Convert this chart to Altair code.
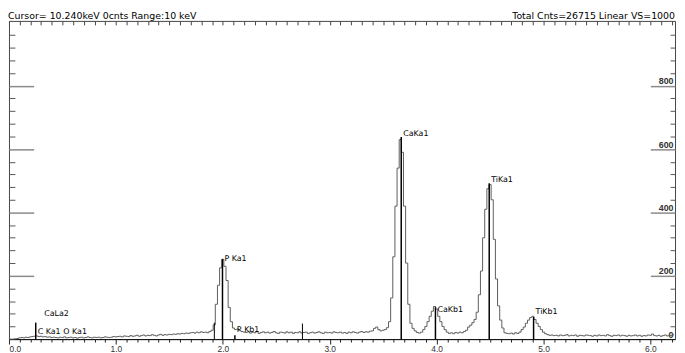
import altair as alt
import pandas as pd

# ---------------- data ----------------
CHANNEL_KEV = 0.02

counts_000 = [0, 0, 0, 1, 2, 4, 5, 4, 6, 5, 7, 8, 9, 10, 8, 9, 7, 8, 6, 7, 5]
counts_042 = [6, 5, 4, 6, 5, 7, 4, 5, 6, 4, 5, 3, 5, 6, 4, 5, 7, 5, 4, 6,
              5, 6, 4, 5, 7, 6, 5, 6, 8, 7]
counts_102 = [8, 9, 7, 10, 9, 8, 11, 9, 10, 12, 9, 11, 13, 10, 12, 11, 14, 12, 10, 13,
              15, 12, 14, 13, 15]
counts_152 = [14, 16, 15, 17, 16, 18, 17, 19, 18, 20, 21, 19, 22, 20, 23, 21, 22, 20, 24, 28]
counts_192 = [45, 110, 170, 225, 252, 230, 185, 100, 55, 35, 30, 32, 27, 24, 22]
counts_222 = [21, 23, 19, 22, 20, 24, 18, 21, 23, 20,
              22, 19, 21, 24, 20, 18, 22, 21, 19, 23,
              20, 22, 18, 21, 20, 23, 19, 21, 22, 18,
              20, 22, 19, 21, 23, 20, 18, 22, 20, 21,
              19, 23, 21, 20, 22, 19, 21, 18, 22, 20,
              23, 21, 19, 22, 24, 21, 23, 22, 25]
counts_340 = [26, 34, 38, 30, 26, 28, 30, 36]
counts_356 = [55, 130, 260, 420, 540, 630, 590, 420, 240, 110, 50, 34]
counts_380 = [26, 21, 19, 22, 30, 40, 55, 72, 88, 103, 95, 72, 55, 40, 30, 22, 18, 20, 17, 21,
              19, 22, 20, 24, 28]
counts_430 = [38, 44, 52, 62, 85, 140, 215, 320, 410, 475, 488, 440, 315, 190, 105, 60, 35, 20]
counts_466 = [18, 17, 19, 16, 20, 18, 22, 30, 38, 50, 60, 68, 72, 62, 50, 40, 30, 22, 17]
counts_504 = [14, 12, 13, 11, 12, 10, 13, 11, 12, 14, 10, 12, 11, 13, 9, 12, 11, 10, 13, 12,
              11, 9, 12, 10, 13, 11, 12, 10, 14, 11, 9, 12, 11, 13, 10, 12, 11, 9, 12, 10,
              11, 13, 10, 12, 9, 11, 10, 13, 12, 16, 11, 10, 12, 9, 11, 13, 10, 12, 11, 14]

segment_start_kev = [0.00, 0.42, 1.02, 1.52, 1.92, 2.22, 3.40, 3.56, 3.80, 4.30, 4.66, 5.04]
segment_counts = [counts_000, counts_042, counts_102, counts_152, counts_192, counts_222,
                  counts_340, counts_356, counts_380, counts_430, counts_466, counts_504]

marker_names = ["CaLa2", "C Ka1", "O Ka1", "P Ka1", "P Kb1", "CaKa1", "CaKb1", "TiKa1", "TiKb1"]
marker_kev = [0.311, 0.25, 0.49, 1.997, 2.113, 3.669, 3.989, 4.492, 4.907]
marker_top = [0, 52, 0, 253, 12, 638, 101, 492, 70]
label_cnts = [79, 21, 21, 252, 30, 647, 92, 501, 85]

extra_marker_kev = [1.921, 2.745]
extra_marker_top = [52, 49]

header_left = "Cursor= 10.240keV 0cnts Range:10 keV"
header_right = "Total Cnts=26715 Linear VS=1000"

x_ticks = [round(i * 0.1, 1) for i in range(63)]
y_major = [200, 400, 600, 800]
y_labels = [0, 200, 400, 600, 800]
y_minor = [v for v in range(40, 1001, 40) if v % 200 != 0]

# ---------------- tables ----------------
rows = []
for start, cnts in zip(segment_start_kev, segment_counts):
    for i, c in enumerate(cnts):
        rows.append({"kev": round(start + i * CHANNEL_KEV, 3), "cnts": c})
spec_df = pd.DataFrame(rows)

mark_df = pd.DataFrame({"name": marker_names, "kev": marker_kev, "base": 0,
                        "top": marker_top, "ly": label_cnts})
extra_df = pd.DataFrame({"kev": extra_marker_kev, "base": 0, "top": extra_marker_top})

W, H = 674, 322
FONT = "DejaVu Sans"
AX_FONT = "Liberation Sans"

xscale = alt.Scale(domain=[0, 6.23], nice=False, zero=False)
yscale = alt.Scale(domain=[0, 1005], nice=False, zero=True)

is_int = "abs(datum.value - round(datum.value)) < 0.001"

bottom_axis = alt.Axis(
    orient="bottom", values=x_ticks, title=None, grid=False,
    labelExpr=f"{is_int} ? format(datum.value, '.1f') : ''",
    tickSize={"condition": {"test": is_int, "value": 5}, "value": 3},
    tickColor="#222", domainColor="#111", domainWidth=1,
    labelFont=AX_FONT, labelFontSize=8.5, labelColor="#333", labelPadding=1,
    labelFlush=True, labelOverlap=False,
)
top_axis = alt.Axis(orient="top", values=x_ticks, labels=False, domain=False,
                    offset=-4, tickSize=4, tickColor="#444", title=None, grid=False)
left_minor = alt.Axis(orient="left", values=y_minor, labels=False, domain=False,
                      offset=-6, tickSize=6, tickColor="#555", title=None, grid=False)
left_major = alt.Axis(orient="left", values=y_major, labels=False, domain=False,
                      offset=-25, tickSize=25, tickColor="#8a8a8a", tickWidth=1.5,
                      title=None, grid=False)
right_major = alt.Axis(
    orient="right", values=y_labels, domain=False, offset=-25, tickSize=25,
    tickColor="#8a8a8a", tickWidth=1.5,
    tickOpacity={"condition": {"test": "datum.value == 0", "value": 0}, "value": 1},
    labelAlign="right", labelPadding=-2, labelBaseline="bottom",
    labelFont=AX_FONT, labelFontSize=9, labelFontWeight="bold", labelColor="#333",
    title=None, grid=False, labelOverlap=False,
)
right_minor = alt.Axis(orient="right", values=y_minor, labels=False, domain=False,
                       offset=-5, tickSize=5, tickColor="#555", title=None, grid=False)

spectrum = alt.Chart(spec_df).mark_line(interpolate="step", color="#5c5c5c", strokeWidth=1).encode(
    x=alt.X("kev:Q", scale=xscale, axis=bottom_axis),
    y=alt.Y("cnts:Q", scale=yscale, axis=left_minor),
)

markers = alt.Chart(mark_df).mark_rule(color="black", strokeWidth=1.5).encode(
    x=alt.X("kev:Q", scale=xscale, axis=top_axis),
    y=alt.Y("base:Q", scale=yscale, axis=left_major),
    y2="top:Q",
)

labels = alt.Chart(mark_df).mark_text(align="left", baseline="middle", dx=2,
                                      font=FONT, fontSize=8, color="black").encode(
    x=alt.X("kev:Q", scale=xscale, axis=None),
    y=alt.Y("ly:Q", scale=yscale, axis=right_major),
    text="name:N",
)

extra = alt.Chart(extra_df).mark_rule(color="black", strokeWidth=1).encode(
    x=alt.X("kev:Q", scale=xscale, axis=None),
    y=alt.Y("base:Q", scale=yscale, axis=right_minor),
    y2="top:Q",
)

head_l = alt.Chart(pd.DataFrame({"t": [header_left]})).mark_text(
    align="left", baseline="alphabetic", font=FONT, fontSize=9.5, color="black").encode(
    x=alt.value(-1), y=alt.value(-2), text="t:N")
head_r = alt.Chart(pd.DataFrame({"t": [header_right]})).mark_text(
    align="right", baseline="alphabetic", font=FONT, fontSize=9.5, color="black").encode(
    x=alt.value(W), y=alt.value(-2), text="t:N")

chart = alt.layer(spectrum, markers, labels, extra, head_l, head_r).resolve_axis(
    x="independent", y="independent"
).properties(
    width=W, height=H,
    autosize=alt.AutoSizeParams(type="none"),
    padding={"left": 1, "top": 11, "right": 2, "bottom": 12},
    background="white",
).configure_view(stroke="#444", strokeWidth=1)

chart.save("out.html", embed_options={"renderer": "svg", "actions": False})
